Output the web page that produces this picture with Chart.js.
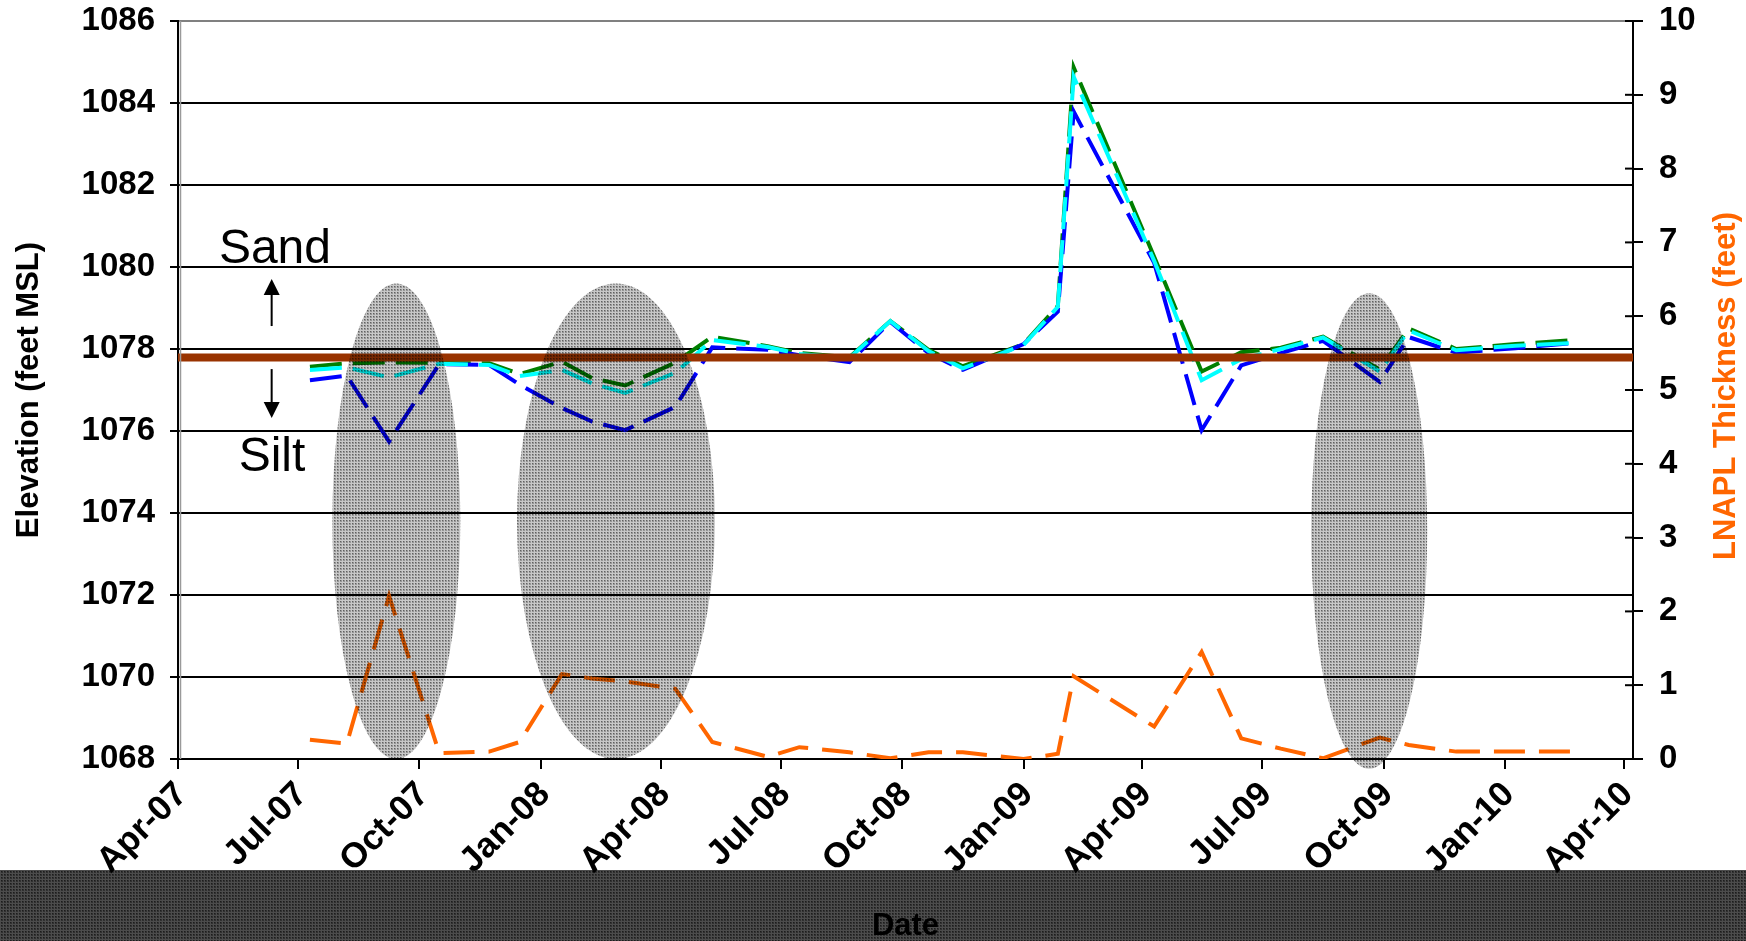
<!DOCTYPE html>
<html>
<head>
<meta charset="utf-8">
<script src="https://cdn.jsdelivr.net/npm/chart.js@4.4.1/dist/chart.umd.min.js"></script>
<style>
html,body{margin:0;padding:0;background:#fff;}
#wrap{width:1746px;height:941px;position:relative;}
</style>
</head>
<body>
<div id="wrap"><canvas id="c"></canvas></div>
<script>
// ---- data ----
const sampleDates = ['2007-07-10','2007-08-07','2007-09-08','2007-10-16','2007-11-23','2007-12-16',
  '2008-01-17','2008-02-09','2008-03-05','2008-04-12','2008-05-10','2008-06-21','2008-07-15',
  '2008-08-22','2008-09-22','2008-10-21','2008-11-16','2009-01-01','2009-01-27','2009-02-08',
  '2009-04-10','2009-05-16','2009-06-15','2009-07-15','2009-08-16','2009-09-28','2009-10-20',
  '2009-11-25','2010-01-09','2010-02-24'];
const elevGreen = [1077.57,1077.65,1077.67,1077.66,1077.65,1077.39,1077.69,1077.29,1077.11,1077.67,
  1078.30,1078.07,1077.90,1077.80,1078.68,1077.98,1077.58,1078.12,1079.05,1084.87,
  1080.25,1077.45,1077.92,1078.03,1078.30,1077.50,1078.50,1078.00,1078.12,1078.22];
const elevCyan = [1077.49,1077.55,1077.31,1077.64,1077.61,1077.34,1077.49,1077.16,1076.93,1077.42,
  1078.22,1078.05,1077.88,1077.78,1078.68,1077.95,1077.53,1078.10,1079.03,1084.64,
  1080.15,1077.24,1077.75,1078.00,1078.28,1077.45,1078.45,1077.97,1078.08,1078.15];
const elevBlue = [1077.24,1077.35,1075.74,1077.63,1077.61,1077.13,1076.56,1076.23,1076.02,1076.59,
  1078.04,1077.98,1077.85,1077.68,1078.66,1077.90,1077.49,1078.12,1078.91,1083.79,
  1080.10,1076.02,1077.60,1077.90,1078.20,1077.20,1078.29,1077.91,1078.02,1078.15];
const lnaplThickness = [0.26,0.21,2.21,0.08,0.10,0.23,1.15,1.09,1.05,0.95,
  0.23,0.03,0.16,0.09,0.01,0.09,0.09,0.00,0.07,1.12,
  0.44,1.45,0.28,0.14,0.01,0.29,0.19,0.10,0.10,0.10];
const tickDates = ['2007-04-01','2007-07-01','2007-10-01','2008-01-01','2008-04-01','2008-07-01',
  '2008-10-01','2009-01-01','2009-04-01','2009-07-01','2009-10-01','2010-01-01','2010-04-01'];
const tickLabels = ['Apr-07','Jul-07','Oct-07','Jan-08','Apr-08','Jul-08','Oct-08','Jan-09',
  'Apr-09','Jul-09','Oct-09','Jan-10','Apr-10'];
const axisStart = '2007-04-01';
const axisEnd = '2010-04-08';
const sandSiltContact = 1077.79;
const elevTicks = [1068,1070,1072,1074,1076,1078,1080,1082,1084,1086];
const thickTicks = [0,1,2,3,4,5,6,7,8,9,10];
// highlighted periods (grey ellipses)
const highlightStart = ['2007-07-27','2007-12-14','2009-08-07'];
const highlightEnd   = ['2007-11-01','2008-05-12','2009-11-03'];
const highlightLow   = [1068.0,1068.0,1067.76];
const highlightHigh  = [1079.6,1079.6,1079.36];

// ---- helpers ----
const origin = Date.UTC(2007,3,1);
function dayOf(s){const p=s.split('-').map(Number);return (Date.UTC(p[0],p[1]-1,p[2])-origin)/86400000;}
const xMin = dayOf(axisStart), xMax = dayOf(axisEnd);
const tickDays = tickDates.map(dayOf);
function series(vals){return sampleDates.map((d,i)=>({x:dayOf(d),y:vals[i]}));}

// 3x3 stipple tile: light grid row/col, dark centre dot, mid base
function makePattern(light,base,dark){
  const c=document.createElement('canvas');c.width=3;c.height=3;
  const g=c.getContext('2d');
  g.fillStyle=base;g.fillRect(0,0,3,3);
  g.fillStyle=light;g.fillRect(0,0,3,1);g.fillRect(0,0,1,3);
  g.fillStyle=dark;g.fillRect(1,1,1,1);
  return c;
}
const FONT='"Liberation Sans", Arial, sans-serif';
Chart.defaults.font.family = FONT;
Chart.defaults.color = '#000';

const decor = {
  id:'decor',
  beforeDraw(chart){
    const ctx=chart.ctx;
    ctx.save();
    ctx.fillStyle='#fff';ctx.fillRect(0,0,chart.width,chart.height);
    const pat=ctx.createPattern(makePattern('#4c4c4c','#303030','#1c1c1c'),'repeat');
    ctx.fillStyle=pat;ctx.fillRect(0,chart.height-71,chart.width,71);
    ctx.restore();
  },
  afterDatasetsDraw(chart){
    const ctx=chart.ctx, xs=chart.scales.x, ys=chart.scales.y;
    const pat=ctx.createPattern(makePattern('#c8c8c8','#969696','#606060'),'repeat');
    ctx.save();
    ctx.globalCompositeOperation='multiply';
    ctx.fillStyle=pat;
    for(let i=0;i<highlightStart.length;i++){
      const x1=xs.getPixelForValue(dayOf(highlightStart[i])), x2=xs.getPixelForValue(dayOf(highlightEnd[i]));
      const yt=ys.getPixelForValue(highlightHigh[i]), yb=ys.getPixelForValue(highlightLow[i]);
      ctx.beginPath();
      ctx.ellipse((x1+x2)/2,(yt+yb)/2,(x2-x1)/2,(yb-yt)/2,0,0,Math.PI*2);
      ctx.fill();
    }
    ctx.restore();
  },
  afterDraw(chart){
    const ctx=chart.ctx, xs=chart.scales.x, ys=chart.scales.y, y2=chart.scales.y2, ca=chart.chartArea;
    ctx.save();
    // Sand / Silt labels
    ctx.fillStyle='#000';ctx.font='48px '+FONT;ctx.textAlign='left';ctx.textBaseline='alphabetic';
    ctx.fillText('Sand', xs.getPixelForValue(dayOf('2007-05-02')), ys.getPixelForValue(1080.1));
    ctx.fillText('Silt', xs.getPixelForValue(dayOf('2007-05-17')), ys.getPixelForValue(1075.02));
    // arrows
    const ax=xs.getPixelForValue(dayOf('2007-06-11'));
    ctx.strokeStyle='#000';ctx.lineWidth=2;
    function arrow(yFrom,yTip){
      const a=ys.getPixelForValue(yFrom), b=ys.getPixelForValue(yTip);
      const dir = b<a ? 1 : -1;
      ctx.beginPath();ctx.moveTo(ax,a);ctx.lineTo(ax,b+dir*14);ctx.stroke();
      ctx.beginPath();ctx.moveTo(ax,b);ctx.lineTo(ax-8,b+dir*16);ctx.lineTo(ax+8,b+dir*16);ctx.closePath();ctx.fill();
    }
    arrow(1078.56,1079.71);
    arrow(1077.51,1076.32);
    // faint second line beside left axis
    ctx.strokeStyle='#9a9a9a';ctx.lineWidth=1.5;
    ctx.beginPath();ctx.moveTo(ca.left+2.5,ca.top);ctx.lineTo(ca.left+2.5,ca.bottom);ctx.stroke();
    // right axis inner tick marks
    ctx.lineWidth=2;ctx.strokeStyle='#000';
    thickTicks.forEach(v=>{const y=y2.getPixelForValue(v);ctx.beginPath();ctx.moveTo(ca.right-8,y);ctx.lineTo(ca.right,y);ctx.stroke();});
    // right axis title (reads bottom-to-top)
    ctx.translate(chart.width-20,(ca.top+ca.bottom)/2-4);
    ctx.rotate(-Math.PI/2);
    ctx.fillStyle='#FF6600';ctx.font='bold 31px '+FONT;ctx.textAlign='center';ctx.textBaseline='middle';
    ctx.fillText('LNAPL Thickness (feet)',0,0);
    ctx.restore();
  }
};

const dash=[32,11];
new Chart(document.getElementById('c'),{
  type:'line',
  data:{datasets:[
    {label:'Sand/Silt contact',data:[{x:xMin,y:sandSiltContact},{x:xMax,y:sandSiltContact}],borderColor:'#993300',borderWidth:8,yAxisID:'y',order:0},
    {label:'LNAPL Thickness',data:series(lnaplThickness),borderColor:'#FF6600',borderWidth:4,borderDash:[31,14],yAxisID:'y2',order:1},
    {label:'Cyan well',data:series(elevCyan),borderColor:'#00FFFF',borderWidth:4,borderDash:dash,yAxisID:'y',order:2},
    {label:'Blue well',data:series(elevBlue),borderColor:'#0000FF',borderWidth:4,borderDash:dash,yAxisID:'y',order:3},
    {label:'Green well',data:series(elevGreen),borderColor:'#008000',borderWidth:4,borderDash:dash,yAxisID:'y',order:4}
  ]},
  options:{
    responsive:true,maintainAspectRatio:false,animation:false,devicePixelRatio:1,
    layout:{padding:{top:21,left:0,right:0,bottom:0}},
    elements:{point:{radius:0},line:{tension:0,borderCapStyle:'butt',fill:false}},
    plugins:{legend:{display:false},tooltip:{enabled:false}},
    scales:{
      x:{type:'linear',min:xMin,max:xMax,bounds:'data',
        afterBuildTicks(s){s.ticks=tickDays.map(v=>({value:v}));},
        afterFit(s){s.height=182;s.paddingLeft=0;s.paddingRight=0;},
        ticks:{autoSkip:false,maxRotation:45,minRotation:45,padding:5,labelOffset:4,
          font:{size:35,weight:'bold'},color:'#000',callback:(v,i)=>tickLabels[i]},
        grid:{drawOnChartArea:false,drawTicks:true,tickLength:10,color:'#000',lineWidth:2},
        border:{color:'#000',width:2},
        title:{display:true,text:'Date',font:{size:31,weight:'bold'},color:'#000',padding:{top:0,bottom:-4}}
      },
      y:{type:'linear',position:'left',min:1068,max:1086,bounds:'data',
        afterBuildTicks(s){s.ticks=elevTicks.map(v=>({value:v}));},
        afterFit(s){s.width=178;s.paddingTop=0;s.paddingBottom=0;},
        ticks:{padding:15,font:{size:33,weight:'bold'},color:'#000',callback:v=>String(v)},
        grid:{color:c=>(c.tick&&c.tick.value===1086)?'#808080':'#000',tickColor:'#000',lineWidth:2,tickLength:8},
        border:{color:'#000',width:2},
        title:{display:true,text:'Elevation (feet MSL)',font:{size:31,weight:'bold'},color:'#000',padding:{top:11,bottom:0}}
      },
      y2:{type:'linear',position:'right',min:0,max:10,bounds:'data',
        afterBuildTicks(s){s.ticks=thickTicks.map(v=>({value:v}));},
        afterFit(s){s.width=113;s.paddingTop=0;s.paddingBottom=0;},
        ticks:{padding:16,font:{size:33,weight:'bold'},color:'#000',callback:v=>String(v)},
        grid:{drawOnChartArea:false,tickLength:10,color:'#000',lineWidth:2},
        border:{color:'#000',width:2}
      }
    }
  },
  plugins:[decor]
});
</script>
</body>
</html>
